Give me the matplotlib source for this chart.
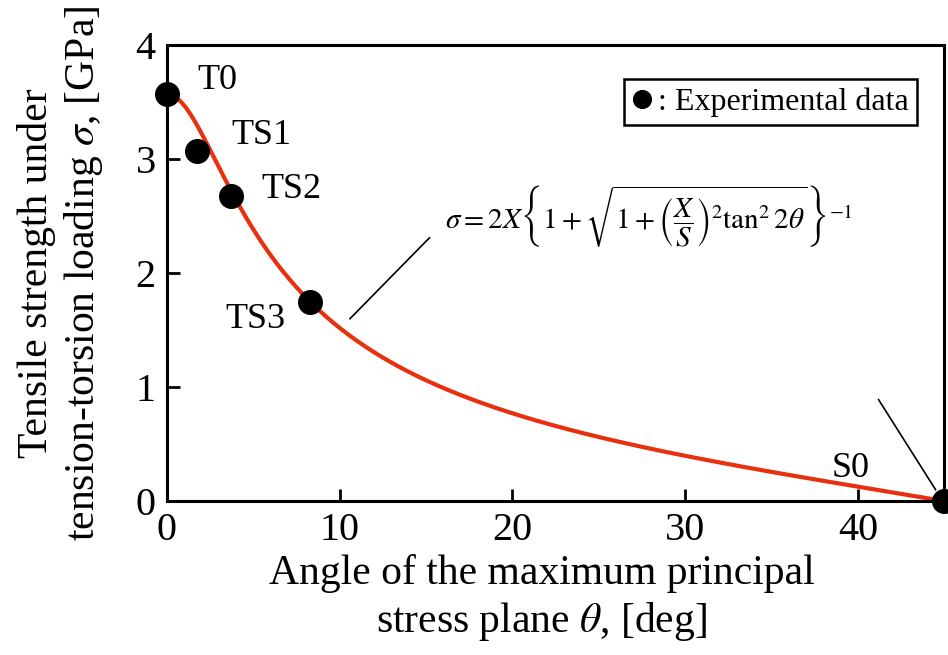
import numpy as np
import matplotlib
matplotlib.use("Agg")
from matplotlib import pyplot as plt

plt.rcParams["font.family"] = ["Liberation Serif", "DejaVu Serif"]
plt.rcParams["mathtext.fontset"] = "stix"

# experimental points: angle [deg], strength [GPa]
names = ["T0", "TS1", "TS2", "TS3", "S0"]
theta_exp = [0.0, 1.75, 3.7, 8.3, 45.0]
sigma_exp = [3.57, 3.07, 2.68, 1.75, 0.0]

# criterion parameters [GPa]
X = 3.57
S = 0.365

theta = np.linspace(0, 45, 600)
t = np.tan(np.radians(2 * theta[:-1]))
sigma = np.append(2 * X / (1 + np.sqrt(1 + (X / S) ** 2 * t ** 2)), 0.0)

fig = plt.figure(figsize=(9.48, 6.55), dpi=100)
ax = fig.add_axes([0.176, 0.235, 0.82, 0.696])

ax.plot(theta, sigma, color="#e8300e", lw=3.0, zorder=2)
ax.plot(theta_exp, sigma_exp, "o", color="black", ms=17, clip_on=False, zorder=3,
        label=": Experimental data")

ax.set_xlim(0, 45)
ax.set_ylim(0, 4)
ax.set_xticks([0, 10, 20, 30, 40])
ax.set_yticks([0, 1, 2, 3, 4])
ax.tick_params(direction="in", length=9, width=2, labelsize=29, pad=8)
for s in ax.spines.values():
    s.set_linewidth(2.2)

ax.set_xlabel("Angle of the maximum principal\nstress plane $\\theta$, [deg]",
              fontsize=30, linespacing=1.22, labelpad=10)
ax.xaxis.set_label_coords(0.482, -0.115)
ax.xaxis.label.set_va("top")
ax.set_ylabel("Tensile strength under\ntension-torsion loading $\\sigma$, [GPa]",
              fontsize=30, linespacing=1.2, labelpad=22)

# point labels
lab_pos = {"T0": (2.95, 3.69), "TS1": (5.5, 3.21), "TS2": (7.2, 2.73),
           "TS3": (5.1, 1.59), "S0": (39.6, 0.29)}
for n in names:
    ax.text(*lab_pos[n], n, fontsize=26, ha="center", va="center")

# leader lines
ax.plot([10.6, 15.2], [1.6, 2.31], color="black", lw=1.2)
ax.plot([41.2, 44.5], [0.89, 0.1], color="black", lw=1.2)

ax.text(16.1, 2.5,
        r"$\sigma = 2X\left\{1+\sqrt{1+\left(\dfrac{X}{S}\right)^2\tan^2 2\theta}\right\}^{-1}$",
        fontsize=21, ha="left", va="center")

leg = ax.legend(loc="upper right", bbox_to_anchor=(0.985, 0.96), fontsize=23,
                handlelength=0.6, handletextpad=0.2, borderpad=0.25,
                fancybox=False, framealpha=1, edgecolor="black", markerscale=0.75)
leg.get_frame().set_linewidth(1.8)

plt.savefig("out.png", dpi=100)
